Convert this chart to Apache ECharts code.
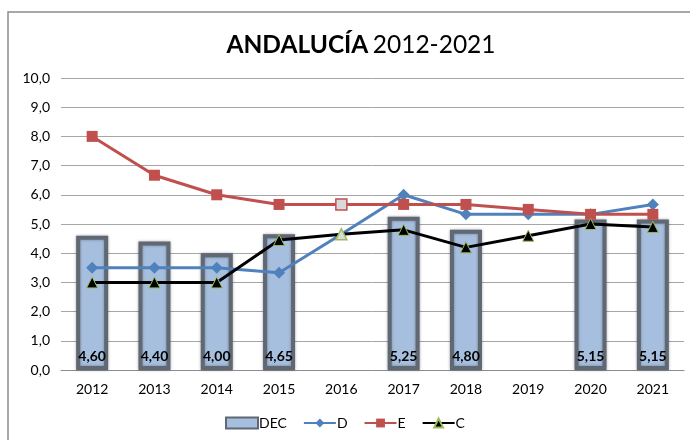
<!DOCTYPE html>
<html>
<head>
<meta charset="utf-8">
<script src="https://cdn.jsdelivr.net/npm/echarts@6/dist/echarts.min.js"></script>
<style>
  html, body { margin: 0; padding: 0; background: #fff; }
  #chart { width: 690px; height: 440px; }
</style>
</head>
<body>
<div id="chart"></div>
<script>
const years = ['2012', '2013', '2014', '2015', '2016', '2017', '2018', '2019', '2020', '2021']
const decValues = [4.60, 4.40, 4.00, 4.65, null, 5.25, 4.80, null, 5.15, 5.15]
const dValues = [3.5, 3.5, 3.5, 3.33, 4.65, 6.0, 5.33, 5.33, 5.33, 5.67]
const eValues = [8.0, 6.67, 6.0, 5.67, 5.67, 5.67, 5.67, 5.5, 5.33, 5.33]
const cValues = [3.0, 3.0, 3.0, 4.45, 4.65, 4.8, 4.2, 4.6, 5.0, 4.9]
const yTicks = [0, 1, 2, 3, 4, 5, 6, 7, 8, 9, 10]
const oddYear = '2016'

const FONT = 'Lato'
const comma = (v, d) => v.toFixed(d).replace('.', ',')

// the odd year gets a grey marker, as in the source sheet
function mark(values, style) {
  return values.map((v, i) => years[i] === oddYear ? { value: v, ...style } : v)
}

const chart = echarts.init(document.getElementById('chart'))

chart.setOption({
  animation: false,
  textStyle: { fontFamily: FONT },
  title: {
    text: '{b|ANDALUCÍA} {n|2012-2021}',
    left: 356,
    textAlign: 'center',
    top: 28,
    textStyle: {
      rich: {
        b: { fontFamily: FONT, fontWeight: 'bold', fontSize: 24.5, color: '#000' },
        n: { fontFamily: FONT, fontWeight: 'normal', fontSize: 24.5, color: '#000' }
      }
    }
  },
  graphic: [{
    type: 'rect',
    shape: { x: 8, y: 12, width: 700, height: 440 },
    style: { fill: 'none', stroke: '#8c8c8c', lineWidth: 1.5 },
    silent: true
  }],
  legend: {
    bottom: 5,
    left: 'center',
    itemGap: 16,
    itemWidth: 32,
    itemHeight: 11,
    textStyle: { fontFamily: FONT, fontSize: 14, color: '#000', padding: [0, 0, 0, -4] },
    data: [{ name: 'DEC', icon: 'rect' }, 'D', 'E', 'C']
  },
  grid: { left: 61, right: 6, top: 78, bottom: 70 },
  xAxis: {
    type: 'category',
    data: years,
    axisLine: { lineStyle: { color: '#8c8c8c', width: 1 } },
    axisTick: { show: false },
    axisLabel: { color: '#000', fontSize: 14, margin: 12 }
  },
  yAxis: {
    type: 'value',
    min: yTicks[0],
    max: yTicks[yTicks.length - 1],
    interval: 1,
    axisLine: { show: false },
    axisTick: { show: false },
    axisLabel: { color: '#000', fontSize: 14, margin: 11, formatter: v => comma(v, 1) },
    splitLine: { lineStyle: { color: '#a6a6a6', width: 1 } }
  },
  series: [
    {
      name: 'DEC',
      type: 'bar',
      data: decValues,
      barWidth: 32,
      itemStyle: {
        color: '#a7bfde',
        borderColor: '#5f6873',
        borderWidth: 4,
        shadowBlur: 3,
        shadowColor: 'rgba(0,0,0,0.35)'
      },
      label: {
        show: true,
        position: 'insideBottom',
        distance: 7,
        fontFamily: FONT,
        fontWeight: 'bold',
        fontSize: 14,
        color: '#000',
        formatter: p => comma(p.value, 2)
      }
    },
    {
      name: 'D',
      type: 'line',
      data: mark(dValues, { symbol: 'none' }),
      symbol: 'diamond',
      symbolSize: 12,
      lineStyle: { color: '#4f81bd', width: 3 },
      itemStyle: { color: '#4f81bd' }
    },
    {
      name: 'E',
      type: 'line',
      data: mark(eValues, { itemStyle: { color: '#d9d9d9', borderColor: '#c0504d', borderWidth: 1.5 } }),
      symbol: 'rect',
      symbolSize: 11,
      lineStyle: { color: '#c0504d', width: 3 },
      itemStyle: { color: '#c0504d' }
    },
    {
      name: 'C',
      type: 'line',
      data: mark(cValues, { itemStyle: { color: '#d9d9d9', borderColor: '#9bbb59', borderWidth: 1.5 } }),
      symbol: 'triangle',
      symbolSize: 11,
      lineStyle: { color: '#000', width: 3 },
      itemStyle: { color: '#000', borderColor: '#9bbb59', borderWidth: 1 }
    }
  ]
})
</script>
</body>
</html>
